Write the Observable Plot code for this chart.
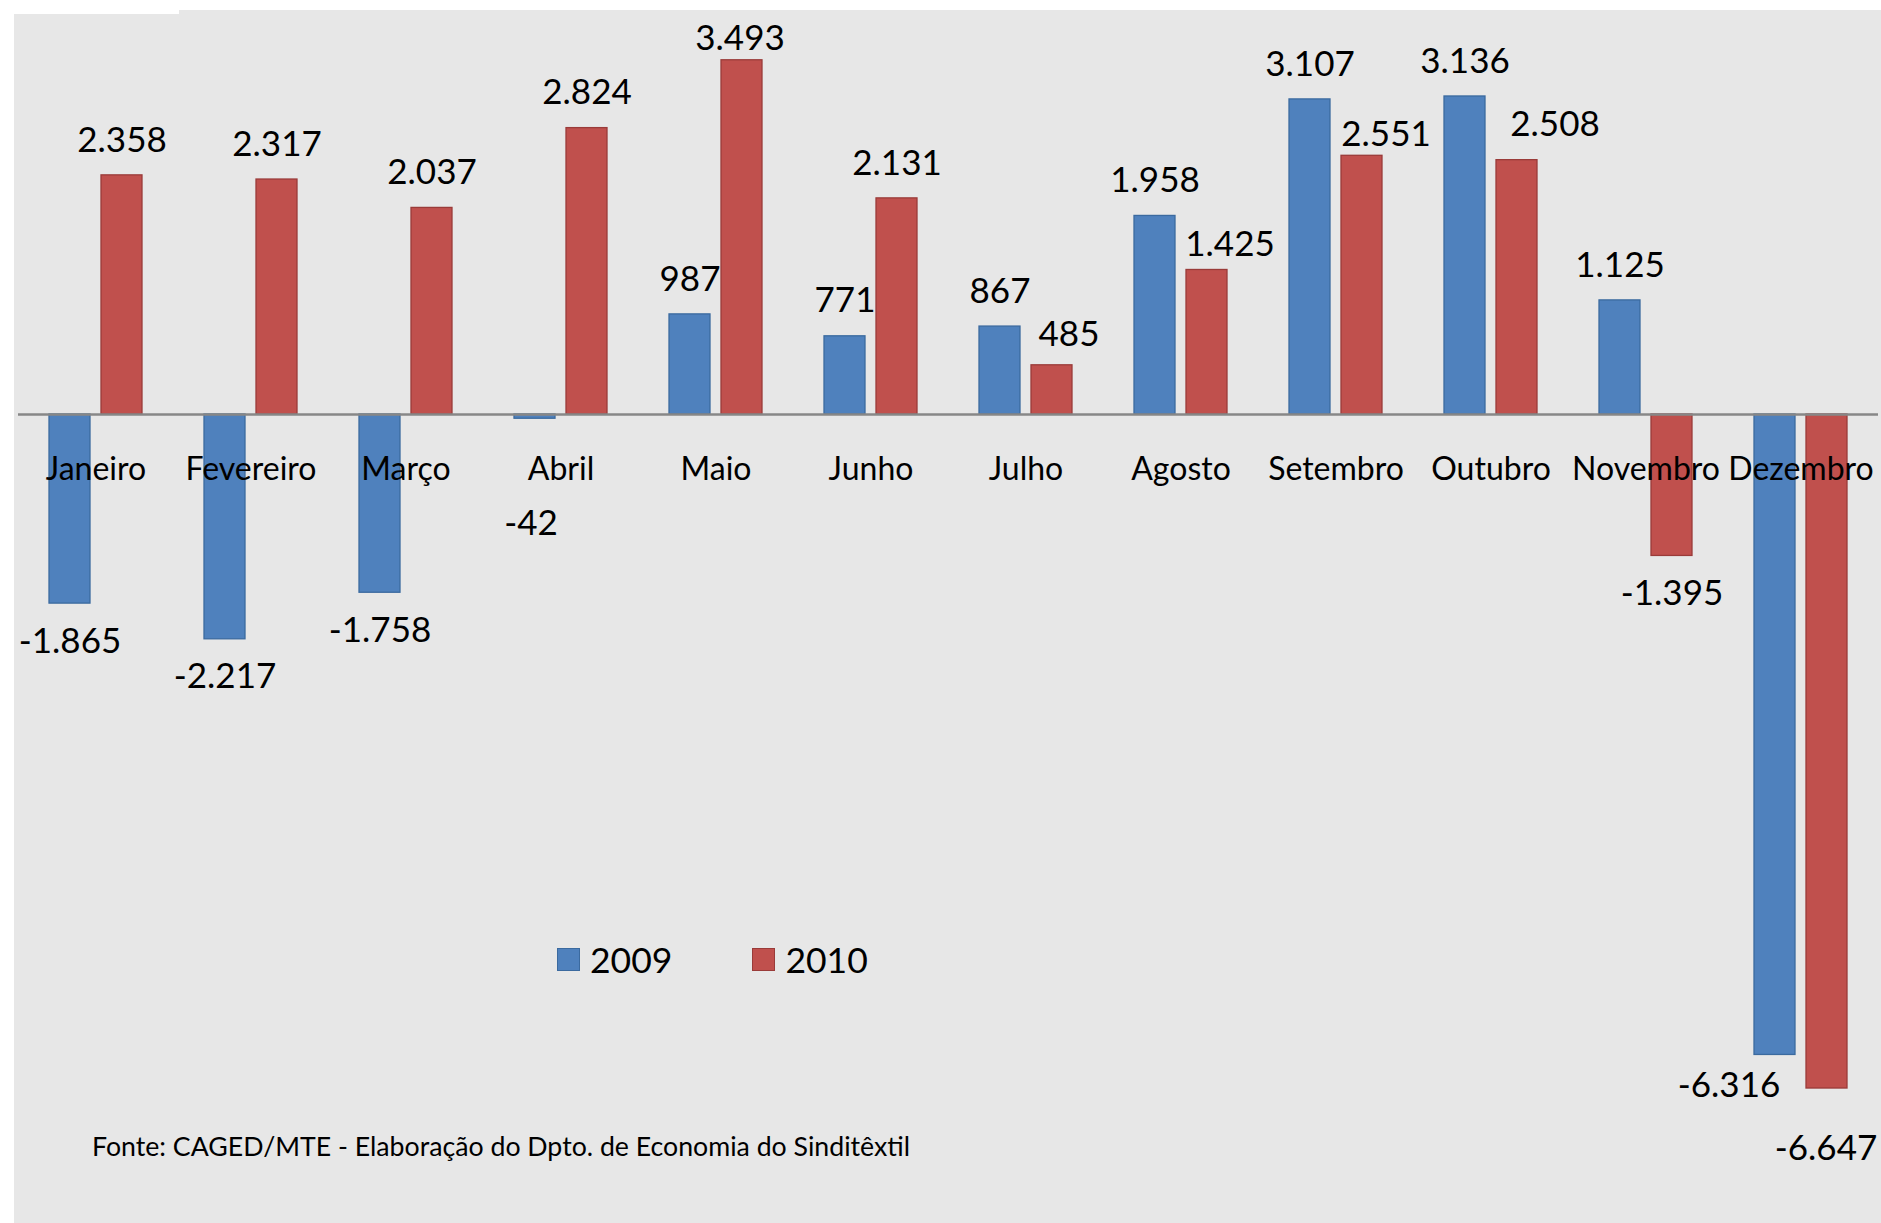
<!DOCTYPE html>
<html>
<head>
<meta charset="utf-8">
<script src="https://cdn.jsdelivr.net/npm/d3@7"></script>
<script src="https://cdn.jsdelivr.net/npm/@observablehq/plot@0.6"></script>
<style>
  html, body { margin: 0; padding: 0; background: #ffffff; }
  body { width: 1881px; height: 1223px; position: relative; overflow: hidden; font-family: Lato, "Open Sans", sans-serif; }
  #panel { position: absolute; left: 14px; top: 10px; width: 1867px; height: 1213px; background: #E7E7E7; }
  #notch { position: absolute; left: 14px; top: 10px; width: 165px; height: 4px; background: #ffffff; }
  #legend { position: absolute; left: 543px; top: 928px; display: flex; align-items: center; font-size: 35.5px; color: #000; }
  .sw { display: inline-block; width: 23px; height: 23px; box-sizing: border-box; border: 1.5px solid; margin-right: 10px; }
  .item { display: flex; align-items: center; margin-right: 80px; }
  #caption { position: absolute; left: 78px; top: 1120px; font-size: 26.7px; color: #000; white-space: nowrap; }
</style>
</head>
<body>
<div id="panel"></div>
<div id="notch"></div>
<script>
// ---- data ----
const months = ["Janeiro", "Fevereiro", "Março", "Abril", "Maio", "Junho", "Julho", "Agosto", "Setembro", "Outubro", "Novembro", "Dezembro"];
const years = ["2009", "2010"];
const values2009 = [-1865, -2217, -1758, -42, 987, 771, 867, 1958, 3107, 3136, 1125, -6316];
const values2010 = [2358, 2317, 2037, 2824, 3493, 2131, 485, 1425, 2551, 2508, -1395, -6647];
const caption = "Fonte: CAGED/MTE - Elaboração do Dpto. de Economia do Sinditêxtil";

// ---- styling ----
const fills = {"2009": "#4F81BD", "2010": "#C0504D"};
const strokes = {"2009": "#3B6A9F", "2010": "#9A3B39"};
// manual label placements seen in the reference (pixel nudges)
const labelNudges = {
  "Abril|2009": {dx: -4, dy: 67},
  "Maio|2010": {dx: -2, dy: 14},
  "Julho|2010": {dx: 17, dy: 4},
  "Agosto|2010": {dx: 23, dy: 10},
  "Setembro|2010": {dx: 24, dy: 14},
  "Outubro|2010": {dx: 38, dy: 0},
  "Dezembro|2009": {dx: -46, dy: -7},
  "Dezembro|2010": {dx: -1, dy: 22}
};

const rows = months.flatMap((m, i) => [
  {month: m, year: "2009", value: values2009[i]},
  {month: m, year: "2010", value: values2010[i]}
]);

const ptBR = d3.formatLocale({decimal: ",", thousands: ".", grouping: [3], currency: ["R$", ""], minus: "-"});
const fmt = ptBR.format(",");

const barMarks = years.map(y => Plot.barY(rows.filter(r => r.year === y), {
  fx: "month", x: "year", y: "value",
  fill: fills[y], stroke: strokes[y], strokeWidth: 1.3
}));

const labelMarks = rows.map(r => {
  const n = labelNudges[r.month + "|" + r.year] || {dx: 0, dy: 0};
  const base = r.value >= 0 ? -35 : 38;
  return Plot.text([r], {
    fx: "month", x: "year", y: "value", text: d => fmt(d.value),
    dx: n.dx, dy: base + n.dy, fontSize: 35, fill: "#000", lineAnchor: "middle"
  });
});

const chart = Plot.plot({
  width: 1867,
  height: 1213,
  marginLeft: 0,
  marginRight: 0,
  marginTop: 8.5,
  marginBottom: 28.2,
  style: {background: "transparent", fontFamily: "Lato, 'Open Sans', sans-serif", overflow: "visible"},
  fx: {domain: months, paddingInner: 0, paddingOuter: 0, axis: null, label: null},
  x: {domain: years, paddingInner: 0.2045, paddingOuter: 0.575, axis: null, label: null},
  y: {domain: [-7700, 3900], axis: null, label: null},
  marks: [
    ...barMarks,
    Plot.ruleY([0], {stroke: "#878787", strokeWidth: 2.5}),
    ...labelMarks,
    Plot.text(months, {fx: d => d, y: 0, text: d => d, dy: 55, fontSize: 32, fill: "#000", lineAnchor: "middle"})
  ]
});

const panel = document.getElementById("panel");
panel.appendChild(chart);

// legend (HTML, inside the panel)
const legend = document.createElement("div");
legend.id = "legend";
years.forEach(y => {
  const item = document.createElement("span");
  item.className = "item";
  const sw = document.createElement("span");
  sw.className = "sw";
  sw.style.background = fills[y];
  sw.style.borderColor = strokes[y];
  item.appendChild(sw);
  item.appendChild(document.createTextNode(y));
  legend.appendChild(item);
});
panel.appendChild(legend);

const cap = document.createElement("div");
cap.id = "caption";
cap.textContent = caption;
panel.appendChild(cap);
</script>
</body>
</html>
